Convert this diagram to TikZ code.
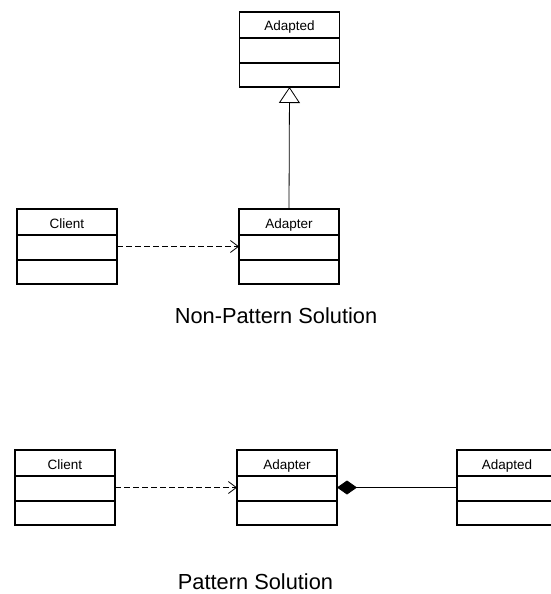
\documentclass[tikz,border=0pt]{standalone}
\usepackage{fontspec}
\setmainfont{Liberation Sans}
\usetikzlibrary{arrows.meta,calc}
\tikzset{
  classbox/.style={draw=black, line width=1.1pt, minimum width=100pt, minimum height=75pt, inner sep=0pt, outer sep=0pt, anchor=north west},
  classlabel/.style={font=\fontsize{13.5}{16}\selectfont, anchor=base, inner sep=0pt},
  boxline/.style={draw=black, line width=1.1pt},
  title/.style={font=\fontsize{21.8}{26}\selectfont, anchor=base, inner sep=0pt},
  conn/.style={draw=black, line width=0.8pt},
  depend/.style={conn, line width=1.1pt, dash pattern=on 6pt off 3pt, -{Straight Barb[length=8pt,width=12pt,line width=0.8pt]}},
  inherit/.style={conn, -{Triangle[open,length=16pt,width=21pt,fill=white,line width=0.8pt]}},
  compose/.style={conn, {Diamond[length=20pt,width=14pt,fill=black]}-},
}
\newcommand\umlclass[4]{%
  \node[classbox] (#1) at (#2,#3) {};
  \node[classlabel] (#1-label) at ($(#1.north)+(0,19)$) {#4};
  \draw[boxline] ($(#1.north west)+(0,26)$) -- ($(#1.north east)+(0,26)$);
  \draw[boxline] ($(#1.north west)+(0,51)$) -- ($(#1.north east)+(0,51)$);
}
\begin{document}
\begin{tikzpicture}[x=1pt,y=-1pt]
\useasboundingbox (0,0) rectangle (551,594);
% Non-pattern solution
\umlclass{adaptedA}{239.5}{12}{Adapted}
\umlclass{clientA}{17}{209}{Client}
\umlclass{adapterA}{239}{209}{Adapter}
\draw[depend] (clientA.east) -- (adapterA.west);
\draw[inherit] (adapterA.north) -- (adaptedA.south);
\node[title] (titleA) at (276,323) {Non-Pattern Solution};
% Pattern solution
\umlclass{clientB}{15}{450}{Client}
\umlclass{adapterB}{237}{450}{Adapter}
\umlclass{adaptedB}{457}{450}{Adapted}
\draw[depend] (clientB.east) -- (adapterB.west);
\draw[compose] (adapterB.east) -- (adaptedB.west);
\node[title] (titleB) at (255.5,589.5) {Pattern Solution};
\end{tikzpicture}
\end{document}
